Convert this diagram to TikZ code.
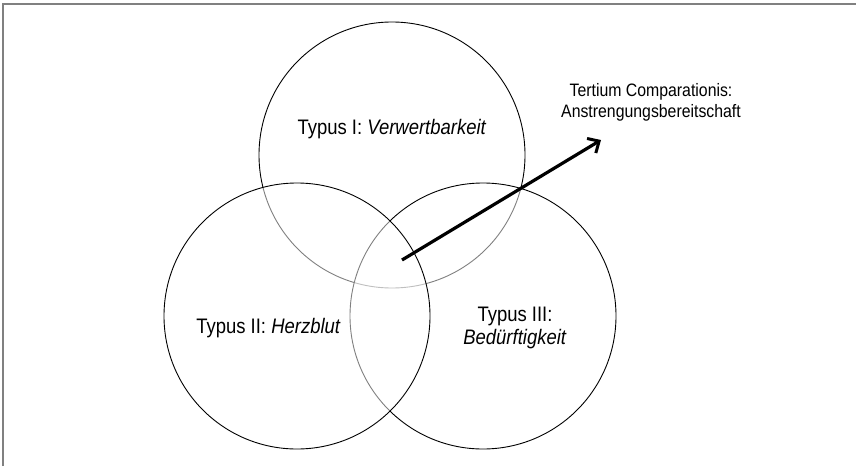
\documentclass[tikz,border=0pt]{standalone}
\usepackage{fontspec}
\setmainfont{Liberation Sans}[FakeStretch=0.88]
\usetikzlibrary{arrows.meta}
\begin{document}
\begin{tikzpicture}[x=1pt,y=-1pt,
  frameline/.style={draw=black!50,line width=1.4pt},
  setcircle/.style={circle,draw=black,line width=0.9pt,fill=white,fill opacity=0.5,draw opacity=1,minimum size=266pt,inner sep=0pt},
  bigtext/.style={font=\fontsize{21}{23}\selectfont,inner sep=0pt,align=center},
  smalltext/.style={font=\fontsize{18}{21}\selectfont,inner sep=0pt,align=center},
  tertarrow/.style={line width=3.2pt,-{Straight Barb[length=9pt,width=17pt,line width=3pt]}}
]
\useasboundingbox (0,0) rectangle (856,466);
\fill[white] (0,0) rectangle (856,466);
% frame
\coordinate (f1) at (3,466);
\coordinate (f2) at (3,4);
\coordinate (f3) at (856,4);
\draw[frameline] (f1) -- (f2) -- (f3);
% circles (drawn in order: top, right, left)
\node[setcircle] (c1) at (392,155) {};
\node[setcircle] (c3) at (483,316) {};
\node[setcircle] (c2) at (297,316) {};
% labels
\node[bigtext,anchor=base] (t1) at (392,134) {Typus I: \textit{Verwertbarkeit}};
\node[bigtext,anchor=base] (t2) at (268.5,333) {Typus II: \textit{Herzblut}};
\node[bigtext] (t3) at (515,328) {Typus III:\\\textit{Bedürftigkeit}};
\node[smalltext] (tc) at (651,102) {Tertium Comparationis:\\Anstrengungsbereitschaft};
% arrow
\coordinate (a0) at (402,260);
\coordinate (a1) at (601,140);
\draw[tertarrow] (a0) -- (a1);
\end{tikzpicture}
\end{document}
